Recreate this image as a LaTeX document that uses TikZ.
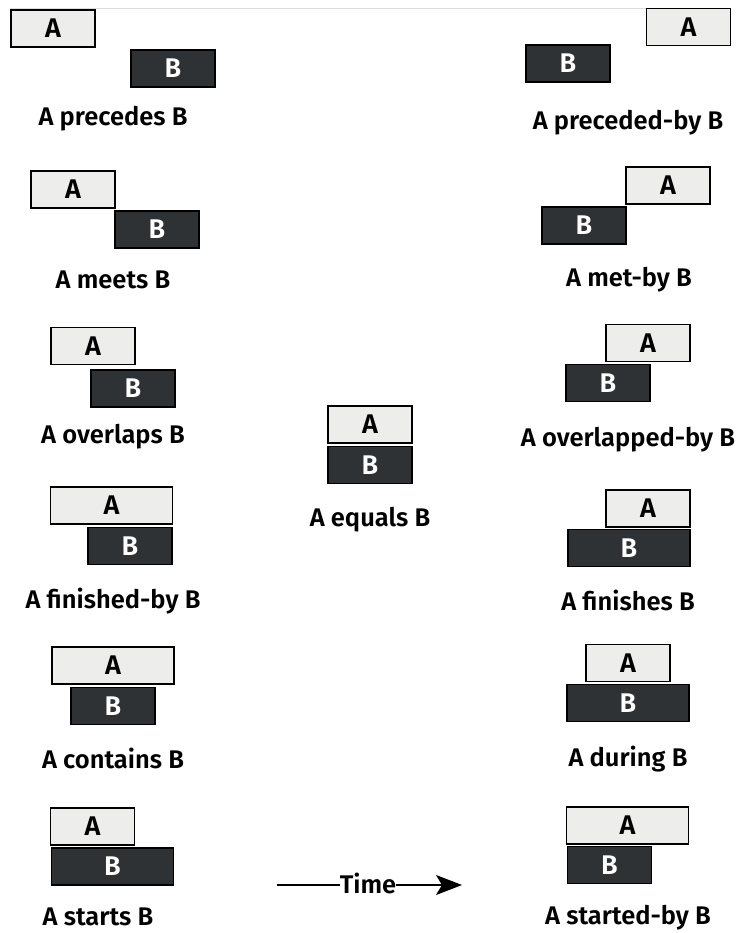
\documentclass[tikz,border=0pt]{standalone}
\usepackage{fontspec}
\setmainfont{Fira Sans}[BoldFont={Fira Sans SemiBold}]
\usetikzlibrary{arrows.meta}
\definecolor{alight}{HTML}{EDEDEB}
\definecolor{bdark}{HTML}{2E3234}
\definecolor{topline}{HTML}{DDDDDD}
\tikzset{
  ivl/.style={draw=black, line width=1.1pt, minimum height=37pt, inner sep=0pt,
    font=\fontsize{27}{30}\selectfont\bfseries},
  abox/.style={ivl, fill=alight, text=black},
  bbox/.style={ivl, fill=bdark, text=white},
  short/.style={minimum width=84pt},
  long/.style={minimum width=122pt},
  lbl/.style={anchor=base, inner sep=0pt, font=\fontsize{25.5}{28}\selectfont\bfseries},
}
\begin{document}
\begin{tikzpicture}[x=1pt,y=-1pt]
\useasboundingbox (0,0) rectangle (736,933);
\draw[topline, line width=0.8pt] (10,8) -- (727,8);
% row 1
\node[abox,short] (a1l) at (53,28.5) {A};
\node[bbox,short] (b1l) at (173,68.5) {B};
\node[lbl] (l1l) at (113,126) {A precedes B};
\node[abox,short] (a1r) at (688.5,27) {A};
\node[bbox,short] (b1r) at (568,63.5) {B};
\node[lbl] (l1r) at (628,130) {A preceded-by B};
% row 2
\node[abox,short] (a2l) at (73,189.5) {A};
\node[bbox,short] (b2l) at (157,229.5) {B};
\node[lbl] (l2l) at (113,288) {A meets B};
\node[abox,short] (a2r) at (668,185.5) {A};
\node[bbox,short] (b2r) at (584,225.5) {B};
\node[lbl] (l2r) at (629,286) {A met-by B};
% row 3
\node[abox,short] (a3l) at (93,346) {A};
\node[bbox,short] (b3l) at (133,388.5) {B};
\node[lbl] (l3l) at (113,443) {A overlaps B};
\node[abox,short] (a3r) at (648,343) {A};
\node[bbox,short] (b3r) at (608,383) {B};
\node[lbl] (l3r) at (628,446) {A overlapped-by B};
% equals
\node[abox,short] (aeq) at (370,424.5) {A};
\node[bbox,short] (beq) at (370,465) {B};
\node[lbl] (leq) at (370,526) {A equals B};
% row 4
\node[abox,long] (a4l) at (111.5,505.5) {A};
\node[bbox,short] (b4l) at (130,546) {B};
\node[lbl] (l4l) at (113,608) {A finished-by B};
\node[abox,short] (a4r) at (648,508.5) {A};
\node[bbox,long] (b4r) at (629,548) {B};
\node[lbl] (l4r) at (628,610) {A finishes B};
% row 5
\node[abox,long] (a5l) at (113,665.5) {A};
\node[bbox,short] (b5l) at (113,706) {B};
\node[lbl] (l5l) at (113,768) {A contains B};
\node[abox,short] (a5r) at (628,663) {A};
\node[bbox,long] (b5r) at (628,703) {B};
\node[lbl] (l5r) at (628,766) {A during B};
% row 6
\node[abox,short] (a6l) at (92.5,826.5) {A};
\node[bbox,long] (b6l) at (112.5,866.5) {B};
\node[lbl] (l6l) at (98,925) {A starts B};
\node[abox,long] (a6r) at (627.5,825.5) {A};
\node[bbox,short] (b6r) at (609.5,865) {B};
\node[lbl] (l6r) at (628,924) {A started-by B};
% time arrow
\node[lbl, anchor=base] (time) at (368,893) {Time};
\coordinate (tleft) at (277,885);
\coordinate (tright) at (462,885);
\draw[line width=1.1pt] (tleft) -- (tleft -| time.west);
\draw[line width=1.1pt, -{Stealth[length=26pt,width=20pt,inset=6pt]}] (tright -| time.east) -- (tright);
\end{tikzpicture}
\end{document}
